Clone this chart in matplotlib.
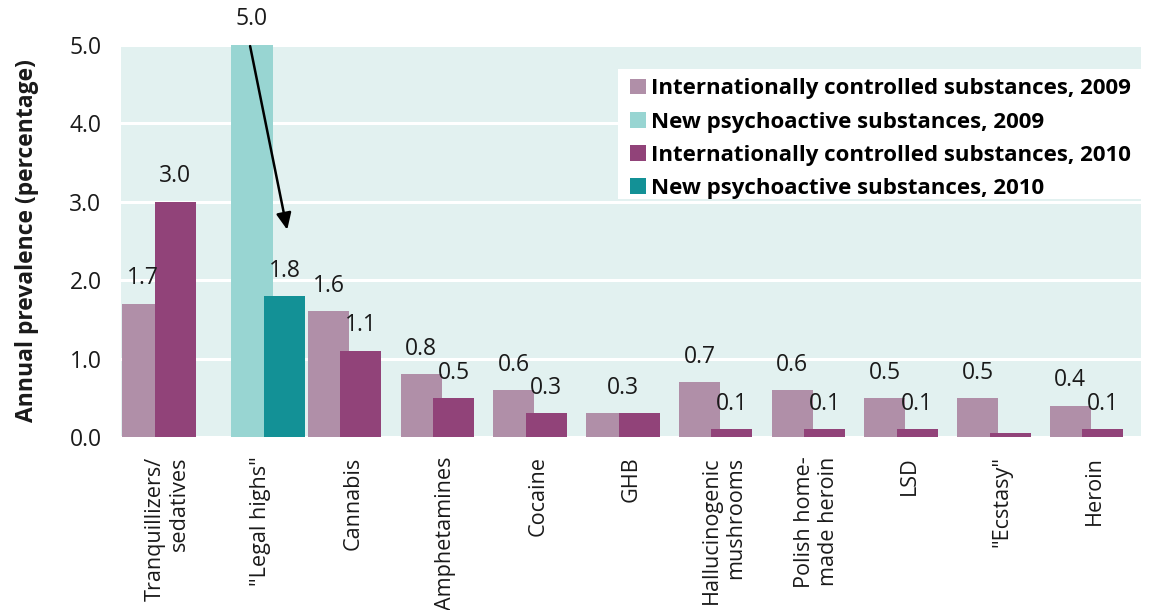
import numpy as np
import matplotlib
matplotlib.use('Agg')
import matplotlib.pyplot as plt
from matplotlib.patches import Rectangle, Patch

plt.rcParams['font.family'] = ['Open Sans', 'DejaVu Sans']

# 数据
categories = ['Tranquillizers/\nsedatives', '"Legal highs"', 'Cannabis', 'Amphetamines',
              'Cocaine', 'GHB', 'Hallucinogenic\nmushrooms', 'Polish home-\nmade heroin',
              'LSD', '"Ecstasy"', 'Heroin']
ics_2009 = [1.7, np.nan, 1.6, 0.8, 0.6, 0.3, 0.7, 0.6, 0.5, 0.5, 0.4]
nps_2009 = [np.nan, 5.0, np.nan, np.nan, np.nan, np.nan, np.nan, np.nan, np.nan, np.nan, np.nan]
ics_2010 = [3.0, np.nan, 1.1, 0.5, 0.3, 0.3, 0.1, 0.1, 0.1, 0.05, 0.1]
nps_2010 = [np.nan, 1.8, np.nan, np.nan, np.nan, np.nan, np.nan, np.nan, np.nan, np.nan, np.nan]
series_names = ['Internationally controlled substances, 2009',
                'New psychoactive substances, 2009',
                'Internationally controlled substances, 2010',
                'New psychoactive substances, 2010']
yticks = [0.0, 1.0, 2.0, 3.0, 4.0, 5.0]

colors = ['#b08fa8', '#98d5d2', '#914379', '#139196']
bg_color = '#e2f1f0'
txt_color = '#1a1a1a'
fs = 16.5

fig = plt.figure(figsize=(11.5, 6.1), dpi=100)
ax = fig.add_axes([0.1052, 0.2836, 0.8870, 0.6434])
ax.set_facecolor(bg_color)

x = np.arange(len(categories))
width = 0.443
offsets = [-0.2625, -0.0875, 0.0875, 0.2625]
all_series = [ics_2009, nps_2009, ics_2010, nps_2010]

for vals, off, col in zip(all_series, offsets, colors):
    ax.bar(x + off, vals, width=width, color=col, zorder=3)


def put_label(xpos, val):
    ax.annotate(f'{val:.1f}', (xpos, val), xytext=(0, 9.5), textcoords='offset points',
                ha='center', va='bottom', fontsize=fs, color=txt_color, zorder=5,
                annotation_clip=False)


# 数值标签（相同数值的两根柱子只标一次，放在中间）
for i in range(len(categories)):
    a, b = ics_2009[i], ics_2010[i]
    if not np.isnan(a) and not np.isnan(b) and a == b:
        put_label(x[i] + (offsets[0] + offsets[2]) / 2, a)
        continue
    for vals, off in zip(all_series, offsets):
        v = vals[i]
        if not np.isnan(v) and v >= 0.1:
            put_label(x[i] + off, v)

# 箭头：2009 -> 2010 新型精神活性物质
k = 1
ax.annotate('', xy=(x[k] + offsets[3] + 0.03, nps_2010[k] + 0.84),
            xytext=(x[k] + offsets[1] - 0.02, nps_2009[k] - 0.02),
            arrowprops=dict(arrowstyle='-|>,head_length=1.0,head_width=0.45',
                            color='black', lw=1.8, shrinkA=0, shrinkB=0),
            zorder=6)

ax.set_xlim(-0.5, len(categories) - 0.5)
ax.set_ylim(0, 5.0)
ax.set_yticks(yticks)
ax.set_yticklabels([f'{t:.1f}' for t in yticks], fontsize=fs, color=txt_color)
ax.yaxis.grid(True, color='white', linewidth=2.2, zorder=1)
ax.set_axisbelow(True)
ax.tick_params(axis='y', length=0, pad=14)
ax.tick_params(axis='x', length=0, pad=14)
ax.set_xticks(x)
ax.set_xticklabels(categories, rotation=90, fontsize=15.6, color=txt_color,
                   ha='center', va='top', multialignment='right')
for s in ax.spines.values():
    s.set_visible(False)

ax.set_ylabel('Annual prevalence (percentage)', fontsize=fs, fontweight='bold',
              color=txt_color, labelpad=22)

# 图例白底
ax.add_patch(Rectangle((0.487, 0.606), 0.513, 0.332, transform=ax.transAxes,
                       facecolor='white', edgecolor='none', zorder=2))
handles = [Patch(facecolor=c, edgecolor='none') for c in colors]
leg = ax.legend(handles, series_names, loc='upper left', bbox_to_anchor=(0.499, 0.914),
                frameon=False, prop={'weight': 'bold', 'size': 16},
                handlelength=0.7, handleheight=0.7, handletextpad=0.25,
                labelspacing=0.55, borderaxespad=0, borderpad=0)
leg.set_zorder(7)

fig.savefig('out.png', dpi=100)
